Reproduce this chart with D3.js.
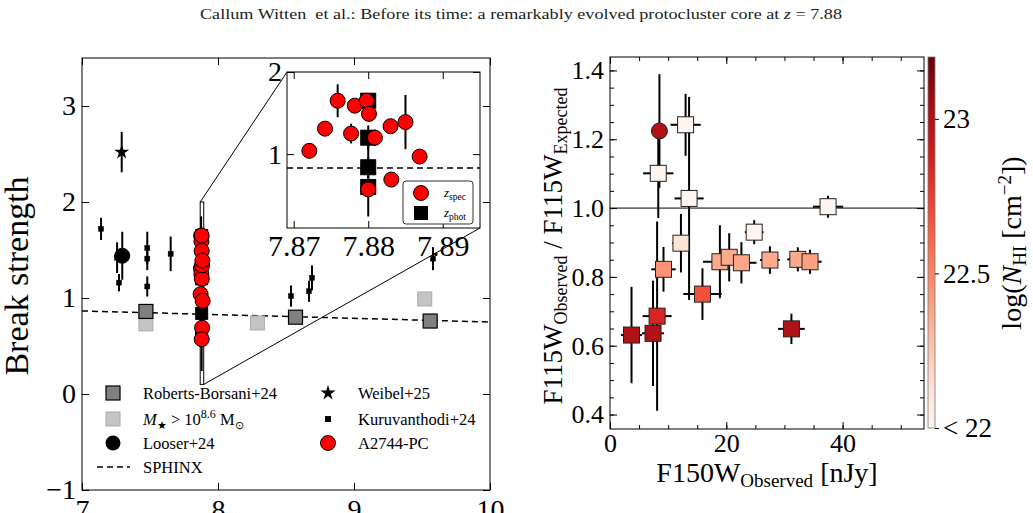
<!DOCTYPE html>
<html>
<head>
<meta charset="utf-8">
<script src="https://cdn.jsdelivr.net/npm/d3@7"></script>
<style>
  body { margin: 0; background: #fff; }
  svg { display: block; font-family: "Liberation Serif", "Times New Roman", serif; }
</style>
</head>
<body>
<div id="chart"></div>
<script>
// ---- left panel: break strength vs redshift ----
const sphinxZ = [7, 10];
const sphinxBreak = [0.865, 0.75];

const rbZ = [7.47, 8.57, 9.56];
const rbBreak = [0.86, 0.80, 0.76];

const massZ = [7.47, 8.29, 9.52];
const massBreak = [0.73, 0.74, 0.99];

const looserZ = [7.296];
const looserBreak = [1.44];
const looserErr = [0.25];

const weibelZ = [7.292];
const weibelBreak = [2.52];
const weibelErr = [0.21];

const kuruZ = [7.14, 7.258, 7.272, 7.48, 7.48, 7.48, 7.652, 8.537, 8.669, 8.691, 9.581];
const kuruBreak = [1.72, 1.42, 1.16, 1.52, 1.41, 1.12, 1.46, 1.02, 1.07, 1.21, 1.41];
const kuruErr = [0.115, 0.16, 0.09, 0.17, 0.12, 0.105, 0.18, 0.11, 0.11, 0.13, 0.12];

// A2744-PC members
const specZ = [7.8721, 7.8742, 7.8759, 7.8782, 7.8777, 7.8798, 7.8801, 7.8809, 7.8830, 7.8850, 7.8869, 7.8831, 7.8800];
const specBreak = [1.04, 1.31, 1.65, 1.59, 1.25, 1.65, 1.49, 1.20, 1.34, 1.39, 0.97, 0.69, 0.57];
const specErr = [0.05, 0.04, 0.20, 0.04, 0.12, 0.04, 0.04, 0.04, 0.04, 0.33, 0.04, 0.04, 0.04];

const photZ = [7.88, 7.88, 7.88, 7.88];
const photBreak = [1.65, 1.20, 0.84, 0.60];
const photErr = [0.08, 0.15, 0.30, 0.36];

const mainYTicks = [-1, 0, 1, 2, 3];
const mainXTicks = [7, 8, 9, 10];
const insetXTicks = [7.87, 7.88, 7.89];
const insetYTicks = [1, 2];

// ---- right panel: F115W ratio vs F150W ----
const f150 = [3.7, 7.4, 8.1, 8.3, 9.2, 12.2, 13.0, 13.6, 15.9, 18.9, 20.5, 22.6, 24.8, 27.5, 31.2, 32.3, 34.4, 37.5];
const f150Err = [1.8, 1.9, 2.5, 2.6, 2.1, 1.5, 2.6, 2.5, 3.3, 2.9, 2.5, 2.6, 1.6, 1.7, 2.3, 1.8, 2.0, 2.6];
const ratio = [0.631, 0.636, 0.686, 1.101, 0.822, 0.898, 1.242, 1.028, 0.750, 0.844, 0.857, 0.841, 0.930, 0.849, 0.649, 0.851, 0.844, 1.004];
const ratioErr = [0.14, 0.153, 0.275, 0.13, 0.065, 0.085, 0.09, 0.295, 0.075, 0.106, 0.07, 0.06, 0.035, 0.04, 0.044, 0.035, 0.035, 0.032];
const logNHI = [23.0, 23.0, 22.85, 22.0, 22.45, 22.12, 22.0, 22.0, 22.68, 22.36, 22.36, 22.38, 22.0, 22.36, 23.0, 22.36, 22.4, 22.0];

const circF150 = [8.5];
const circRatio = [1.224];
const circRatioErr = [0.165];
const circNHI = [23.0];

const rightYTicks = [0.4, 0.6, 0.8, 1.0, 1.2, 1.4];
const rightXTicks = [0, 20, 40];
const cbarTicks = [22, 22.5, 23];
const cbarLabels = ['< 22', '22.5', '23'];

const W = 1033, H = 513;
const svg = d3.select('#chart').append('svg').attr('width', W).attr('height', H);

// 标题
const title = svg.append('text')
  .attr('x', 521).attr('y', 19)
  .attr('text-anchor', 'middle')
  .attr('textLength', 642).attr('lengthAdjust', 'spacingAndGlyphs')
  .style('font-size', '15px')
  .style('fill', '#222');
title.append('tspan').text('Callum Witten\u00a0 et al.: Before its time: a remarkably evolved protocluster core at ');
title.append('tspan').style('font-style', 'italic').text('z');
title.append('tspan').text(' = 7.88');

// 坐标轴样式
function styleAxis(g, size) {
  g.attr('font-family', null).attr('font-size', null);
  g.select('.domain').remove();
  g.selectAll('text').style('font-size', size + 'px').style('fill', '#000');
  g.selectAll('line').attr('stroke', '#000').attr('stroke-width', 1);
}

function errY(g, xs, ys, es, sx, sy, width) {
  g.selectAll(null).data(ys).enter().append('line')
    .attr('x1', (d, i) => sx(xs[i])).attr('x2', (d, i) => sx(xs[i]))
    .attr('y1', (d, i) => sy(d - es[i])).attr('y2', (d, i) => sy(d + es[i]))
    .attr('stroke', '#000').attr('stroke-width', width);
}

function squares(g, xs, ys, sx, sy, side, fill, stroke, sw) {
  g.selectAll(null).data(ys).enter().append('rect')
    .attr('x', (d, i) => sx(xs[i]) - side / 2)
    .attr('y', d => sy(d) - side / 2)
    .attr('width', side).attr('height', side)
    .attr('fill', fill).attr('stroke', stroke).attr('stroke-width', sw);
}

function circles(g, xs, ys, sx, sy, r, fill) {
  g.selectAll(null).data(ys).enter().append('circle')
    .attr('cx', (d, i) => sx(xs[i])).attr('cy', d => sy(d)).attr('r', r)
    .attr('fill', fill).attr('stroke', '#000').attr('stroke-width', 1);
}

// ================= 左图 =================
const x = d3.scaleLinear().domain([7, 10]).range([82, 490]);
const y = d3.scaleLinear().domain([-1, 3.5]).range([490, 58]);
const gm = svg.append('g');

gm.append('g').attr('transform', 'translate(82,0)')
  .call(d3.axisLeft(y).tickValues(mainYTicks).tickSize(-7).tickPadding(6).tickFormat(d3.format('d')))
  .call(g => styleAxis(g, 28));
gm.append('g').attr('transform', 'translate(490,0)')
  .call(d3.axisRight(y).tickValues(mainYTicks).tickSize(-7).tickFormat(''))
  .call(g => styleAxis(g, 28));
gm.append('g').attr('transform', 'translate(0,490)')
  .call(d3.axisBottom(x).tickValues(mainXTicks).tickSize(-7).tickPadding(9).tickFormat(d3.format('d')))
  .call(g => styleAxis(g, 28));
gm.append('g').attr('transform', 'translate(0,58)')
  .call(d3.axisTop(x).tickValues(mainXTicks).tickSize(-7).tickFormat(''))
  .call(g => styleAxis(g, 28));
gm.append('rect').attr('x', 82).attr('y', 58).attr('width', 408).attr('height', 432)
  .attr('fill', 'none').attr('stroke', '#000').attr('stroke-width', 1);

gm.append('text')
  .attr('transform', 'translate(28,276) rotate(-90)')
  .attr('text-anchor', 'middle')
  .style('font-size', '34px')
  .text('Break strength');

// SPHINX
gm.append('path')
  .datum(sphinxZ.map((z, i) => [z, sphinxBreak[i]]))
  .attr('d', d3.line().x(d => x(d[0])).y(d => y(d[1])))
  .attr('fill', 'none').attr('stroke', '#000').attr('stroke-width', 1.5)
  .attr('stroke-dasharray', '6,4');

squares(gm, massZ, massBreak, x, y, 14, '#c4c4c4', '#aaaaaa', 1);
squares(gm, rbZ, rbBreak, x, y, 14, '#808080', '#000', 1.2);

errY(gm, kuruZ, kuruBreak, kuruErr, x, y, 2);
squares(gm, kuruZ, kuruBreak, x, y, 5, '#000', '#000', 0.5);

errY(gm, looserZ, looserBreak, looserErr, x, y, 2);
circles(gm, looserZ, looserBreak, x, y, 7.5, '#000');

errY(gm, weibelZ, weibelBreak, weibelErr, x, y, 2);
gm.selectAll(null).data(weibelBreak).enter().append('path')
  .attr('d', d3.symbol(d3.symbolStar, 70))
  .attr('transform', (d, i) => `translate(${x(weibelZ[i])},${y(d)})`)
  .attr('fill', '#000');

// 放大区域框
const zx0 = 7.8691, zx1 = 7.895, zy0 = 0.1, zy1 = 2.0;
gm.append('rect')
  .attr('x', x(zx0)).attr('y', y(zy1))
  .attr('width', x(zx1) - x(zx0)).attr('height', y(zy0) - y(zy1))
  .attr('fill', '#fff').attr('stroke', '#000').attr('stroke-width', 1);

errY(gm, photZ, photBreak, photErr, x, y, 2);
squares(gm, photZ, photBreak, x, y, 12, '#000', '#000', 1);
errY(gm, specZ, specBreak, specErr, x, y, 2);
circles(gm, specZ, specBreak, x, y, 7.5, '#ff0000');

// 图例
const legFont = 16.5;
const leg = gm.append('g').style('font-size', legFont + 'px');
const legRowsL = [393, 419, 443, 467];
const legRowsR = [393, 419, 443];
leg.append('rect').attr('x', 113 - 7).attr('y', legRowsL[0] - 7).attr('width', 14).attr('height', 14)
  .attr('fill', '#808080').attr('stroke', '#000').attr('stroke-width', 1.2);
leg.append('rect').attr('x', 113 - 7).attr('y', legRowsL[1] - 7).attr('width', 14).attr('height', 14)
  .attr('fill', '#c4c4c4').attr('stroke', '#aaaaaa');
leg.append('circle').attr('cx', 113).attr('cy', legRowsL[2]).attr('r', 7.5).attr('fill', '#000');
leg.append('line').attr('x1', 97).attr('x2', 130).attr('y1', legRowsL[3]).attr('y2', legRowsL[3])
  .attr('stroke', '#000').attr('stroke-width', 1.5).attr('stroke-dasharray', '6,4');
leg.append('path').attr('d', d3.symbol(d3.symbolStar, 70))
  .attr('transform', `translate(328,${legRowsR[0]})`).attr('fill', '#000');
leg.append('rect').attr('x', 328 - 3).attr('y', legRowsR[1] - 3).attr('width', 6).attr('height', 6).attr('fill', '#000');
leg.append('circle').attr('cx', 328).attr('cy', legRowsR[2]).attr('r', 7.5)
  .attr('fill', '#ff0000').attr('stroke', '#000');

function legText(xp, yp) {
  return leg.append('text').attr('x', xp).attr('y', yp).attr('dy', '0.35em');
}
legText(143, legRowsL[0]).text('Roberts-Borsani+24');
const mt = legText(143, legRowsL[1]);
mt.append('tspan').style('font-style', 'italic').text('M');
mt.append('tspan').attr('dy', 4).style('font-size', '11px').text('\u2605');
mt.append('tspan').attr('dy', -4).text('\u00a0> 10');
mt.append('tspan').attr('dy', -7).style('font-size', '12px').text('8.6');
mt.append('tspan').attr('dy', 7).text('\u00a0M');
mt.append('tspan').attr('dy', 4).style('font-size', '11px').text('\u2299');
legText(143, legRowsL[2]).text('Looser+24');
legText(143, legRowsL[3]).text('SPHINX');
legText(358, legRowsR[0]).text('Weibel+25');
legText(358, legRowsR[1]).text('Kuruvanthodi+24');
legText(358, legRowsR[2]).text('A2744-PC');

// ---- 插图 ----
const xi = d3.scaleLinear().domain([zx0, zx1]).range([287, 480]);
const yi = d3.scaleLinear().domain([zy0, zy1]).range([228, 72]);
const sphinxAt = z => sphinxBreak[0] + (sphinxBreak[1] - sphinxBreak[0]) * (z - sphinxZ[0]) / (sphinxZ[1] - sphinxZ[0]);
const gi = svg.append('g');
gi.append('rect').attr('x', 287).attr('y', 72).attr('width', 193).attr('height', 156).attr('fill', '#fff');

gi.append('line').attr('x1', 287).attr('x2', 480)
  .attr('y1', yi(sphinxAt(zx0))).attr('y2', yi(sphinxAt(zx1)))
  .attr('stroke', '#000').attr('stroke-width', 1.5).attr('stroke-dasharray', '6,4');

errY(gi, photZ, photBreak, photErr, xi, yi, 2);
squares(gi, photZ, photBreak, xi, yi, 15, '#000', '#000', 1);
errY(gi, specZ, specBreak, specErr, xi, yi, 2);
circles(gi, specZ, specBreak, xi, yi, 7.5, '#ff0000');

gi.append('g').attr('transform', 'translate(287,0)')
  .call(d3.axisLeft(yi).tickValues(insetYTicks).tickSize(-7).tickPadding(5).tickFormat(d3.format('d')))
  .call(g => styleAxis(g, 28));
gi.append('g').attr('transform', 'translate(480,0)')
  .call(d3.axisRight(yi).tickValues(insetYTicks).tickSize(-7).tickFormat(''))
  .call(g => styleAxis(g, 28));
gi.append('g').attr('transform', 'translate(0,228)')
  .call(d3.axisBottom(xi).tickValues(insetXTicks).tickSize(-7).tickPadding(7).tickFormat(d3.format('.2f')))
  .call(g => styleAxis(g, 30));
gi.append('g').attr('transform', 'translate(0,72)')
  .call(d3.axisTop(xi).tickValues(insetXTicks).tickSize(-7).tickFormat(''))
  .call(g => styleAxis(g, 28));
gi.append('rect').attr('x', 287).attr('y', 72).attr('width', 193).attr('height', 156)
  .attr('fill', 'none').attr('stroke', '#000').attr('stroke-width', 1);

// 插图图例
const il = gi.append('g');
il.append('rect').attr('x', 403).attr('y', 181).attr('width', 70).attr('height', 43).attr('rx', 3)
  .attr('fill', '#fff').attr('stroke', '#333').attr('stroke-width', 1);
il.append('circle').attr('cx', 421).attr('cy', 193).attr('r', 7.5).attr('fill', '#ff0000').attr('stroke', '#000');
il.append('rect').attr('x', 414).attr('y', 206).attr('width', 14).attr('height', 14).attr('fill', '#000');
[['spec', 193], ['phot', 213]].forEach(([s, yy]) => {
  const t = il.append('text').attr('x', 444).attr('y', yy).attr('dy', '0.3em').style('font-size', '13px');
  t.append('tspan').style('font-style', 'italic').text('z');
  t.append('tspan').attr('dy', 3).style('font-size', '9.5px').text(s);
});

// 连接线
svg.append('line').attr('x1', x(zx0)).attr('y1', y(zy1)).attr('x2', 287).attr('y2', 72)
  .attr('stroke', '#000').attr('stroke-width', 1);
svg.append('line').attr('x1', x(zx1)).attr('y1', y(zy0)).attr('x2', 480).attr('y2', 228)
  .attr('stroke', '#000').attr('stroke-width', 1);

// ================= 右图 =================
const xr = d3.scaleLinear().domain([0, 54]).range([610, 924]);
const yr = d3.scaleLinear().domain([0.358, 1.439]).range([429, 57]);
const cb = d3.scaleLinear().domain([22, 23.2]).range([428, 57]);
const colorOf = v => d3.interpolateReds(Math.max(0, Math.min(1, (v - 22) / 1.2)));
const gr = svg.append('g');

const yMinor = d3.range(8, 29).map(i => +(i * 0.05).toFixed(2));
const xMinor = d3.range(0, 11).map(i => i * 5);

gr.append('g').attr('transform', 'translate(610,0)')
  .call(d3.axisLeft(yr).tickValues(yMinor).tickSize(-4).tickFormat(''))
  .call(g => styleAxis(g, 26));
gr.append('g').attr('transform', 'translate(924,0)')
  .call(d3.axisRight(yr).tickValues(yMinor).tickSize(-4).tickFormat(''))
  .call(g => styleAxis(g, 26));
gr.append('g').attr('transform', 'translate(0,429)')
  .call(d3.axisBottom(xr).tickValues(xMinor).tickSize(-4).tickFormat(''))
  .call(g => styleAxis(g, 26));
gr.append('g').attr('transform', 'translate(0,57)')
  .call(d3.axisTop(xr).tickValues(xMinor).tickSize(-4).tickFormat(''))
  .call(g => styleAxis(g, 26));

gr.append('g').attr('transform', 'translate(610,0)')
  .call(d3.axisLeft(yr).tickValues(rightYTicks).tickSize(-7).tickPadding(6).tickFormat(d3.format('.1f')))
  .call(g => styleAxis(g, 26));
gr.append('g').attr('transform', 'translate(924,0)')
  .call(d3.axisRight(yr).tickValues(rightYTicks).tickSize(-7).tickFormat(''))
  .call(g => styleAxis(g, 26));
gr.append('g').attr('transform', 'translate(0,429)')
  .call(d3.axisBottom(xr).tickValues(rightXTicks).tickSize(-7).tickPadding(5).tickFormat(d3.format('d')))
  .call(g => styleAxis(g, 26));
gr.append('g').attr('transform', 'translate(0,57)')
  .call(d3.axisTop(xr).tickValues(rightXTicks).tickSize(-7).tickFormat(''))
  .call(g => styleAxis(g, 26));

// y = 1 参考线
gr.append('line').attr('x1', xr(0)).attr('x2', xr(54)).attr('y1', yr(1)).attr('y2', yr(1))
  .attr('stroke', '#000').attr('stroke-width', 1);

// 误差棒
gr.selectAll(null).data(ratio).enter().append('line')
  .attr('x1', (d, i) => xr(f150[i] - f150Err[i])).attr('x2', (d, i) => xr(f150[i] + f150Err[i]))
  .attr('y1', d => yr(d)).attr('y2', d => yr(d))
  .attr('stroke', '#000').attr('stroke-width', 2);
errY(gr, f150, ratio, ratioErr, xr, yr, 2);
errY(gr, circF150, circRatio, circRatioErr, xr, yr, 2);

gr.selectAll(null).data(ratio).enter().append('rect')
  .attr('x', (d, i) => xr(f150[i]) - 8).attr('y', d => yr(d) - 8)
  .attr('width', 16).attr('height', 16)
  .attr('fill', (d, i) => colorOf(logNHI[i]))
  .attr('stroke', '#222').attr('stroke-width', 1);
gr.selectAll(null).data(circRatio).enter().append('circle')
  .attr('cx', (d, i) => xr(circF150[i])).attr('cy', d => yr(d)).attr('r', 8)
  .attr('fill', (d, i) => colorOf(circNHI[i]))
  .attr('stroke', '#222').attr('stroke-width', 1);

gr.append('rect').attr('x', 610).attr('y', 57).attr('width', 314).attr('height', 372)
  .attr('fill', 'none').attr('stroke', '#000').attr('stroke-width', 1);

// 坐标轴标签
const ylab = gr.append('text')
  .attr('transform', 'translate(562,246) rotate(-90)')
  .attr('text-anchor', 'middle').style('font-size', '27px');
ylab.append('tspan').text('F115W');
ylab.append('tspan').attr('dy', 5).style('font-size', '18px').text('Observed');
ylab.append('tspan').attr('dy', -5).text('\u00a0/ F115W');
ylab.append('tspan').attr('dy', 5).style('font-size', '18px').text('Expected');

const xlab = gr.append('text').attr('x', 767).attr('y', 482)
  .attr('text-anchor', 'middle').style('font-size', '28px');
xlab.append('tspan').text('F150W');
xlab.append('tspan').attr('dy', 5).style('font-size', '19px').text('Observed');
xlab.append('tspan').attr('dy', -5).text('\u00a0[nJy]');

// 色标
const grad = svg.append('defs').append('linearGradient').attr('id', 'reds')
  .attr('x1', 0).attr('y1', 1).attr('x2', 0).attr('y2', 0);
d3.range(0, 1.0001, 0.05).forEach(t => {
  grad.append('stop').attr('offset', t).attr('stop-color', d3.interpolateReds(t));
});
gr.append('rect').attr('x', 928).attr('y', 57).attr('width', 7).attr('height', 371)
  .attr('fill', 'url(#reds)').attr('stroke', '#777').attr('stroke-width', 0.8);
gr.append('g').attr('transform', 'translate(935,0)')
  .call(d3.axisRight(cb).tickValues(cbarTicks).tickSize(4).tickPadding(4).tickFormat((d, i) => cbarLabels[i]))
  .call(g => styleAxis(g, 27));

const clab = gr.append('text')
  .attr('transform', 'translate(1021,243) rotate(-90)')
  .attr('text-anchor', 'middle').style('font-size', '28px');
clab.append('tspan').text('log(');
clab.append('tspan').style('font-style', 'italic').text('N');
clab.append('tspan').attr('dy', 5).style('font-size', '19px').text('HI');
clab.append('tspan').attr('dy', -5).text('\u00a0[cm');
clab.append('tspan').attr('dy', -10).style('font-size', '19px').text('\u22122');
clab.append('tspan').attr('dy', 10).text('])');
</script>
</body>
</html>
